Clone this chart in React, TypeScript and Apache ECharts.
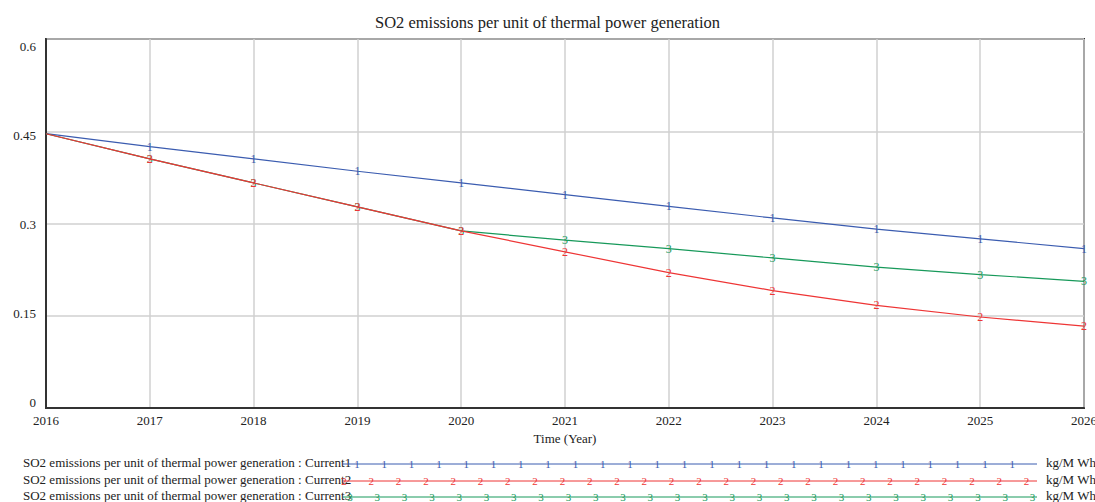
import React, { useEffect, useRef } from "react";
import * as echarts from "echarts";

const years = ["2016","2017","2018","2019","2020","2021","2022","2023","2024","2025","2026"];
const current1 = [0.446,0.425,0.405,0.385,0.366,0.347,0.328,0.309,0.291,0.275,0.259];
const current2 = [0.446,0.405,0.366,0.327,0.288,0.254,0.220,0.191,0.167,0.148,0.133];
const current3 = [0.446,0.405,0.366,0.327,0.288,0.273,0.259,0.244,0.229,0.217,0.206];
const yTicks = [0, 0.15, 0.3, 0.45, 0.6];
const seriesNames = [
  "SO2 emissions per unit of thermal power generation : Current1",
  "SO2 emissions per unit of thermal power generation : Current2",
  "SO2 emissions per unit of thermal power generation : Current3",
];
const colors = ["#3b5cb0", "#ee3535", "#17995a"];
const unit = "kg/M Wh";
const FONT = "Liberation Serif";

if (typeof document !== "undefined") {
  document.body.style.margin = "0";
  document.body.style.overflow = "hidden";
}

export default function App() {
  const ref = useRef<HTMLDivElement>(null);
  useEffect(() => {
    document.body.style.margin = "0";
    document.body.style.overflow = "hidden";
    const chart = echarts.init(ref.current!, null, { renderer: "svg", width: 1095, height: 502 });
    const data = [current1, current2, current3];
    const series: any[] = data.map((d, i) => ({
      type: "line",
      name: seriesNames[i],
      data: d,
      symbol: "circle",
      symbolSize: 0.1,
      showSymbol: true,
      lineStyle: { color: colors[i], width: 1.2 },
      itemStyle: { color: colors[i] },
      z: 3 + (i === 1 ? 1 : 0),
      label: {
        show: true,
        position: "inside",
        formatter: (p: any) => (p.dataIndex === 0 ? "" : String(i + 1)),
        color: colors[i],
        fontFamily: FONT,
        fontSize: 12,
      },
    }));
    const legendGraphics: any[] = [];
    const rowY = [464, 481, 497];
    const lineStart = [343, 343, 343];
    const markerStart = [357, 344, 350];
    rowY.forEach((y, i) => {
      legendGraphics.push({
        type: "text",
        left: 23,
        top: y - 8,
        style: { text: seriesNames[i], font: `13px "${FONT}"`, fill: "#222" },
      });
      legendGraphics.push({
        type: "line",
        shape: { x1: lineStart[i], y1: y, x2: 1037, y2: y },
        style: { stroke: colors[i], lineWidth: 1 },
      });
      for (let k = 0; k < 26; k++) {
        const x = markerStart[i] + k * 27.3;
        if (x > 1037) break;
        legendGraphics.push({
          type: "text",
          x,
          y,
          style: {
            text: String(i + 1),
            font: `11px "${FONT}"`,
            fill: colors[i],
            align: "center",
            verticalAlign: "middle",
          },
        });
      }
      legendGraphics.push({
        type: "text",
        left: 1046,
        top: y - 8,
        style: { text: unit, font: `13px "${FONT}"`, fill: "#222" },
      });
    });

    chart.setOption({
      animation: false,
      backgroundColor: "#fff",
      textStyle: { fontFamily: FONT },
      title: {
        text: "SO2 emissions per unit of thermal power generation",
        left: "center",
        top: 9,
        textStyle: { fontFamily: FONT, fontSize: 16.5, fontWeight: "normal", color: "#222" },
      },
      grid: {
        left: 46, right: 11, top: 39, bottom: 94,
        outerBoundsMode: "none",
        containLabel: false,
        show: true, borderColor: "#333", borderWidth: 2, backgroundColor: "transparent",
      },
      xAxis: {
        type: "category",
        data: years,
        boundaryGap: false,
        name: "Time (Year)",
        nameLocation: "middle",
        nameGap: 21,
        nameTextStyle: { fontFamily: FONT, fontSize: 13, color: "#222" },
        axisLine: { lineStyle: { color: "#333", width: 2 } },
        axisTick: { show: false },
        axisLabel: { fontFamily: FONT, fontSize: 13, color: "#222", margin: 6, interval: 0 },
        splitLine: { show: true, lineStyle: { color: "#d0d0d0", width: 1.5 } },
      },
      yAxis: [
        {
          type: "value",
          min: 0,
          max: 0.6,
          interval: 0.15,
          axisLine: { show: true, lineStyle: { color: "#333", width: 2 } },
          axisTick: { show: false },
          axisLabel: { show: false },
          splitLine: { show: true, lineStyle: { color: "#d0d0d0", width: 1.5 } },
        },
        {
          type: "value",
          position: "left",
          min: -0.0101,
          max: 0.6135,
          axisLine: { show: false },
          axisTick: { show: false },
          splitLine: { show: false },
          axisLabel: {
            customValues: yTicks,
            showMinLabel: true,
            showMaxLabel: true,
            formatter: (v: number) => String(Math.round(v * 100) / 100),
            fontFamily: FONT,
            fontSize: 13,
            color: "#222",
            margin: 10,
          },
        },
      ],
      series,
      graphic: legendGraphics,
    });
    return () => chart.dispose();
  }, []);
  return <div ref={ref} style={{ width: 1095, height: 502 }} />;
}
